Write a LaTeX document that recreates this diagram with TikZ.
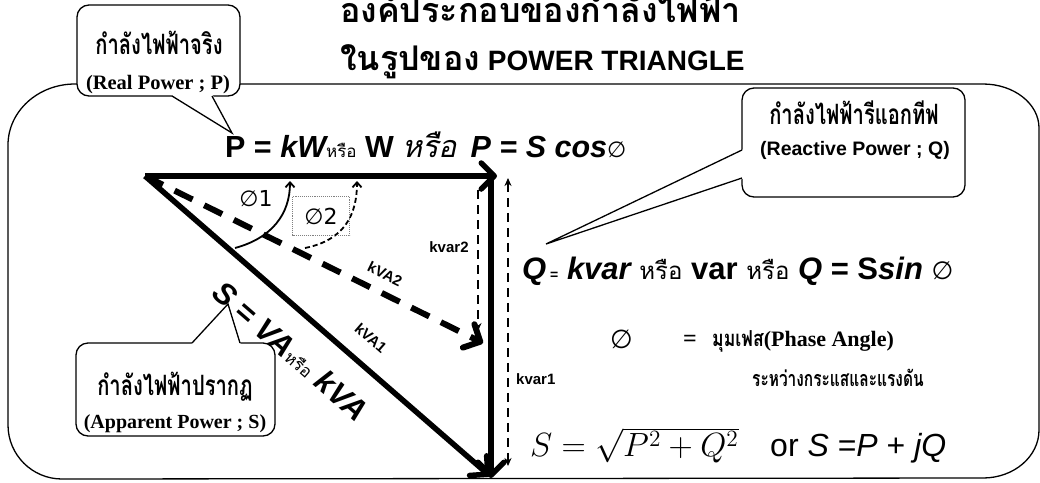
\documentclass[tikz,border=0pt]{standalone}
\usepackage{graphicx}
\usepackage{fontspec}
\setmainfont{Liberation Sans}
\newfontfamily\thai[Script=Thai]{Loma}
\newfontfamily\tms{Liberation Serif}
\newfontfamily\dv{DejaVu Sans}
\usetikzlibrary{arrows.meta,calc}
\newcommand\fsz[1]{\fontsize{#1}{#1}\selectfont}
\newcommand\narrow[1]{\scalebox{0.8}[1]{#1}}
\newcommand\condense[1]{\scalebox{0.72}[1]{#1}}
\begin{document}
\begin{tikzpicture}[x=1pt,y=-1pt,
  frame/.style={line width=1.3pt},
  callbox/.style={draw, line width=1.3pt, fill=white, rounded corners=12pt, inner sep=0pt},
  tail/.style={line width=1.3pt},
  txt/.style={inner sep=0pt, anchor=base west},
  ctxt/.style={inner sep=0pt, anchor=center},
  bigarrow/.style={line width=5.5pt, -{Straight Barb[length=13pt,width=26pt,round]}},
  dasharrow/.style={line width=6pt, dash pattern=on 20pt off 13pt, -{Straight Barb[length=13pt,width=26pt,round]}},
  thinarrow/.style={line width=2.5pt, dash pattern=on 9pt off 6pt},
  anglearc/.style={line width=1.8pt, -{Straight Barb[length=5pt,width=9pt]}},
  lbl/.style={inner sep=0pt, font=\bfseries\fsz{15}}
]
\useasboundingbox (0,0) rectangle (1040,482);

% title
\node[txt] (t1) at (340,22) {\fsz{34}\bfseries{\thai องค์ประกอบของกำลังไฟฟ้า}};
\node[txt] (t2) at (340,70) {\fsz{28}\bfseries{\thai\fsz{34}ในรูปของ} POWER TRIANGLE};

% big frame
\draw[frame] (75,84) -- (983,84) arc[start angle=90, end angle=0, x radius=56, y radius=-44]
  -- (1039,430) arc[start angle=0, end angle=-90, x radius=56, y radius=-48]
  -- (62,479) arc[start angle=270, end angle=180, x radius=54, y radius=-54]
  -- (8,145) arc[start angle=180, end angle=90, x radius=67, y radius=-61] -- cycle;

% triangle
\coordinate (O) at (145,176);
\coordinate (Pend) at (497,176);
\coordinate (Ctop) at (491,176);
\coordinate (Cbot) at (491,478);
\coordinate (Send) at (490,476);
\coordinate (K2) at (483,343);
\draw[bigarrow] (O) -- (Pend);
\draw[bigarrow] (O) -- (Send);
\draw[bigarrow] (Ctop) -- (Cbot);
\draw[dasharrow] (O) -- (K2);
\coordinate (kv2a) at (478,190);
\coordinate (kv2b) at (478,331);
\draw[thinarrow, -{Stealth[length=8pt,width=7pt]}] (kv2a) -- (kv2b);
\coordinate (kv1a) at (508,178);
\coordinate (kv1b) at (508,466);
\draw[thinarrow, {Stealth[length=8pt,width=7pt]}-{Stealth[length=8pt,width=7pt]}] (kv1a) -- (kv1b);

% angles
\coordinate (a1s) at (235,248);
\coordinate (a1e) at (290,181);
\draw[anglearc] (a1s) .. controls (272,238) and (290,214) .. (a1e);
\coordinate (a2s) at (305,248);
\coordinate (a2e) at (357,181);
\draw[anglearc, dash pattern=on 5pt off 3pt] (a2s) .. controls (345,240) and (357,214) .. (a2e);
\node[ctxt] (phi1) at (256,199) {\dv\fsz{22}∅1};
\node[draw=gray, densely dotted, line width=0.9pt, minimum width=57pt, minimum height=39pt, inner sep=0pt] (phi2box) at (321,216) {};
\node[ctxt] (phi2) at (321,216) {\dv\fsz{22}∅2};

% line labels
\node[lbl, anchor=center] (kvar2) at (449,247) {kvar2};
\node[lbl, anchor=center, rotate=-26] (kva2) at (385,274) {kVA2};
\node[lbl, anchor=center, rotate=-41] (kva1) at (371,338) {kVA1};
\node[lbl, anchor=base west] (kvar1) at (516,384) {kvar1};
\node[inner sep=0pt, anchor=center, rotate=-41] (Slbl) at (290.5,351)
  {\fsz{31}\bfseries\itshape S = VA{\upshape\mdseries\thai\fsz{17}หรือ} kVA};

% P line
\node[txt] (Pline) at (225,157) {\fsz{30.5}\bfseries P = {\itshape kW}{\mdseries\thai\fsz{17}หรือ} W {\mdseries\thai\itshape หรือ}\, {\itshape P = S cos}{\mdseries\dv\fsz{22}∅}};

% Q line
\node[txt] (Qline) at (522,279) {\fsz{31}\bfseries{\itshape Q}{\fsz{14} =} {\itshape kvar} {\mdseries\thai\fsz{24}หรือ} var {\mdseries\thai\fsz{24}หรือ} {\itshape Q} = S{\itshape sin} {\mdseries\dv\fsz{25}∅}};

% phase angle
\node[txt] (phi) at (610,348) {\dv\fsz{26}∅};
\node[txt] (phieq) at (683,346) {\tms\bfseries\fsz{24}=};
\node[txt] (phitxt) at (712,346) {\bfseries\fsz{22}\narrow{\thai มุมเฟส}{\tms (Phase Angle)}};
\node[txt] (between) at (752,386) {\bfseries\fsz{21.5}\condense{\thai ระหว่างกระแสและแรงดัน}};

% formula
\node[txt] (Sform) at (530,456) {\scalebox{1.62}{\fsz{20}$S=\sqrt{P^2+Q^2}$}};
\node[txt] (Sor) at (770,456) {\fsz{32}or {\itshape S} =\itshape P \upshape+ \itshape jQ};

% callout 1
\node[callbox, minimum width=163pt, minimum height=91pt] (c1) at (158.5,50.5) {};
\coordinate (c1a) at (172,96);
\coordinate (c1b) at (212,96);
\coordinate (c1t) at (232,133);
\fill[white] ($(c1a)+(-0.6,-1.2)$) -- (c1t) -- ($(c1b)+(0.6,-1.2)$) -- cycle;
\draw[tail] (c1a) -- (c1t) -- (c1b);
\node[ctxt] (c1l1) at (159,43) {\bfseries\fsz{28}\condense{\thai กำลังไฟฟ้าจริง}};
\node[ctxt] (c1l2) at (158,85) {\tms\bfseries\fsz{20.5}(Real Power ; P)};

% callout 2
\node[callbox, minimum width=223pt, minimum height=109pt] (c2) at (853.5,142.5) {};
\coordinate (c2a) at (742,150);
\coordinate (c2b) at (742,178);
\coordinate (c2t) at (546,244);
\fill[white] ($(c2a)+(1.2,-0.6)$) -- (c2t) -- ($(c2b)+(1.2,0.6)$) -- cycle;
\draw[tail] (c2a) -- (c2t) -- (c2b);
\node[ctxt] (c2l1) at (854,113) {\bfseries\fsz{28}\condense{\thai กำลังไฟฟ้ารีแอกทีฟ}};
\node[ctxt] (c2l2) at (855,150) {\bfseries\fsz{19.5}(Reactive Power ; Q)};

% callout 3
\node[callbox, minimum width=199pt, minimum height=93pt] (c3) at (175.5,389.5) {};
\coordinate (c3a) at (192,343);
\coordinate (c3b) at (240,343);
\coordinate (c3t) at (228,304);
\fill[white] ($(c3a)+(-0.6,1.2)$) -- (c3t) -- ($(c3b)+(0.6,1.2)$) -- cycle;
\draw[tail] (c3a) -- (c3t) -- (c3b);
\node[ctxt] (c3l1) at (175,387) {\bfseries\fsz{28}\condense{\thai กำลังไฟฟ้าปรากฏ}};
\node[ctxt] (c3l2) at (175,424) {\tms\bfseries\fsz{20}(Apparent Power ; S)};
\end{tikzpicture}
\end{document}
